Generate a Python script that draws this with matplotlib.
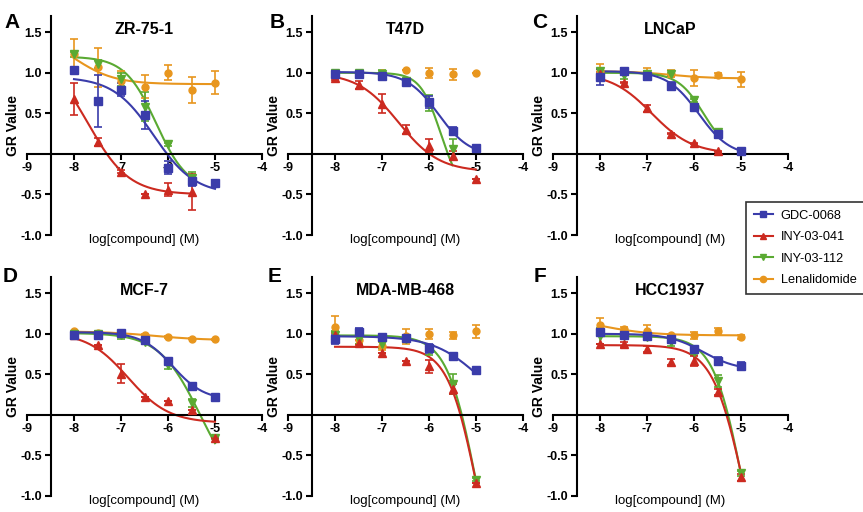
import numpy as np
import matplotlib
matplotlib.use("Agg")
import matplotlib.pyplot as plt
from matplotlib.lines import Line2D

plt.rcParams['font.family'] = ['Liberation Sans', 'DejaVu Sans']

# log10 concentrations (M)
log_conc = [-8, -7.5, -7, -6.5, -6, -5.5, -5]
cell_lines = ["ZR-75-1", "T47D", "LNCaP", "MCF-7", "MDA-MB-468", "HCC1937"]
panel_letters = ["A", "B", "C", "D", "E", "F"]
nan = np.nan

# GR values per cell line (rows) and concentration (cols)
gdc0068_gr = [[1.03, 0.65, 0.79, 0.48, -0.17, -0.34, -0.36],
              [0.99, 0.98, 0.96, 0.89, 0.64, 0.28, 0.07],
              [0.95, 1.02, 0.96, 0.84, 0.58, 0.24, 0.04],
              [0.99, 0.99, 1.01, 0.92, 0.66, 0.36, 0.22],
              [0.93, 1.02, 0.96, 0.95, 0.82, 0.73, 0.55],
              [1.02, 0.98, 0.97, 0.93, 0.81, 0.66, 0.60]]
gdc0068_err = [[0.03, 0.32, 0.08, 0.17, 0.08, 0.06, 0.04],
               [0.03, 0.02, 0.03, 0.02, 0.07, 0.05, 0.01],
               [0.10, 0.04, 0.05, 0.05, 0.03, 0.05, 0.01],
               [0.02, 0.02, 0.02, 0.02, 0.03, 0.02, 0.01],
               [0.06, 0.05, 0.03, 0.02, 0.06, 0.03, 0.01],
               [0.02, 0.02, 0.04, 0.04, 0.04, 0.05, 0.05]]
iny041_gr = [[0.68, 0.15, -0.22, -0.49, -0.44, -0.47, nan],
             [0.94, 0.85, 0.62, 0.30, 0.10, -0.02, -0.31],
             [0.99, 0.88, 0.56, 0.25, 0.13, 0.03, nan],
             [0.99, 0.86, 0.51, 0.22, 0.17, 0.06, -0.29],
             [0.98, 0.89, 0.76, 0.67, 0.60, 0.32, -0.84],
             [0.87, 0.87, 0.81, 0.65, 0.66, 0.28, -0.77]]
iny041_err = [[0.20, 0.05, 0.02, 0.0, 0.08, 0.22, nan],
              [0.03, 0.05, 0.12, 0.06, 0.08, 0.06, 0.0],
              [0.02, 0.01, 0.04, 0.01, 0.01, 0.01, nan],
              [0.0, 0.0, 0.12, 0.0, 0.0, 0.0, 0.0],
              [0.03, 0.03, 0.0, 0.0, 0.08, 0.06, 0.0],
              [0.0, 0.03, 0.04, 0.04, 0.06, 0.04, 0.04]]
iny112_gr = [[1.23, 1.11, 0.92, 0.58, 0.12, -0.30, nan],
             [1.00, 1.00, 0.99, 0.90, 0.63, 0.06, nan],
             [1.02, 0.97, 0.99, 0.98, 0.66, 0.27, nan],
             [1.00, 1.00, 0.98, 0.90, 0.61, 0.15, -0.28],
             [0.98, 0.93, 0.88, 0.93, 0.80, 0.38, -0.80],
             [0.97, 0.97, 0.96, 0.90, 0.78, 0.42, -0.72]]
iny112_err = [[0.03, 0.05, 0.08, 0.18, 0.02, 0.08, nan],
              [0.02, 0.02, 0.04, 0.02, 0.10, 0.12, nan],
              [0.03, 0.05, 0.03, 0.02, 0.02, 0.03, nan],
              [0.02, 0.03, 0.04, 0.02, 0.04, 0.05, 0.02],
              [0.05, 0.05, 0.05, 0.02, 0.06, 0.12, 0.02],
              [0.10, 0.02, 0.03, 0.05, 0.04, 0.07, 0.03]]
lenalidomide_gr = [[1.23, 1.07, 0.90, 0.83, 1.00, 0.79, 0.88],
                   [1.00, 1.00, 1.00, 1.04, 1.00, 0.98, 1.00],
                   [1.02, 1.01, 0.99, 0.99, 0.94, 0.97, 0.92],
                   [1.03, 1.01, 1.00, 0.99, 0.96, 0.94, 0.93],
                   [1.08, 0.92, 0.85, 0.97, 1.00, 0.98, 1.03],
                   [1.11, 1.06, 1.03, 0.98, 0.98, 1.03, 0.96]]
lenalidomide_err = [[0.19, 0.24, 0.12, 0.14, 0.09, 0.16, 0.14],
                    [0.0, 0.0, 0.0, 0.0, 0.06, 0.07, 0.0],
                    [0.09, 0.03, 0.07, 0.04, 0.10, 0.03, 0.09],
                    [0.01, 0.01, 0.01, 0.01, 0.01, 0.01, 0.01],
                    [0.14, 0.05, 0.05, 0.09, 0.06, 0.04, 0.08],
                    [0.08, 0.02, 0.08, 0.02, 0.04, 0.04, 0.03]]

# fitted curve parameters: (top, bottom, logEC50, hill), None = no fit shown
gdc0068_fit = [(0.95, -0.5, -6.3, 1.0), (1.01, -0.03, -5.8, 1.3), (1.02, -0.03, -5.9, 1.3),
               (1.02, 0.18, -5.9, 1.3), (0.97, 0.0, -4.95, 0.9), (1.0, 0.55, -5.8, 1.2)]
iny041_fit = [(1.25, -0.5, -7.7, 1.0), (1.0, -0.22, -6.65, 1.0), (1.0, 0.0, -6.9, 1.0),
              (1.02, -0.1, -6.85, 1.0), (0.84, -2.6, -4.98, 1.4), (0.86, -2.6, -4.94, 1.3)]
iny112_fit = [(1.2, -0.45, -6.25, 1.3), (1.0, -0.5, -5.75, 2.0), (1.0, 0.0, -5.8, 1.6),
              (1.01, -1.0, -5.32, 1.0), (0.98, -2.6, -5.0, 1.4), (0.97, -2.6, -4.97, 1.4)]
lenalidomide_fit = [(1.5, 0.86, -8.0, 1.0), None, (1.02, 0.93, -6.5, 1.0),
                    (1.03, 0.92, -6.3, 0.8), None, (1.22, 0.98, -8.0, 0.8)]

# drawing order: bottom layer first
drugs = [
    ("Lenalidomide", lenalidomide_gr, lenalidomide_err, lenalidomide_fit, "#e8961e", "o"),
    ("INY-03-112", iny112_gr, iny112_err, iny112_fit, "#5aaa32", "v"),
    ("INY-03-041", iny041_gr, iny041_err, iny041_fit, "#cc2a20", "^"),
    ("GDC-0068", gdc0068_gr, gdc0068_err, gdc0068_fit, "#3a3caa", "s"),
]


def logistic(x, top, bottom, c, h):
    return bottom + (top - bottom) / (1 + 10 ** ((x - c) * h))


fig = plt.figure(figsize=(8.63, 5.12), dpi=100)
W, H = 863, 512
lefts = [27, 288, 553]
tops = [16, 277]
aw, ah = 235, 219
letter_pos = [(12, 22), (277, 22), (540, 22), (10, 276), (275, 276), (540, 276)]

x = np.array(log_conc)
for i, cell in enumerate(cell_lines):
    row, col = divmod(i, 3)
    ax = fig.add_axes([lefts[col] / W, (H - tops[row] - ah) / H, aw / W, ah / H])
    ax.set_xlim(-9, -4)
    ax.set_ylim(-1.0, 1.7)

    for name, gr, err, fits, color, mk in drugs:
        y = np.array(gr[i], dtype=float)
        e = np.array(err[i], dtype=float)
        ax.errorbar(x, y, yerr=e, fmt=mk, color=color, ms=5.5 if mk != "o" else 5,
                    capsize=3, elinewidth=1.2, capthick=1.2, clip_on=False, zorder=3)
        p = fits[i]
        if p is not None:
            last = x[~np.isnan(y)].max()
            xs = np.linspace(-8, last, 200)
            ax.plot(xs, logistic(xs, *p), color=color, lw=1.5, zorder=2)

    for s in ["top", "right"]:
        ax.spines[s].set_visible(False)
    ax.spines["left"].set_position(("data", -8.5))
    ax.spines["bottom"].set_position(("data", 0))
    ax.spines["left"].set_linewidth(1.5)
    ax.spines["bottom"].set_linewidth(1.5)
    ax.set_xticks([-9, -8, -7, -6, -5, -4])
    ax.set_xticklabels(["-9", "-8", "-7", "-6", "-5", "-4"])
    ax.set_yticks([-1.0, -0.5, 0.5, 1.0, 1.5])
    ax.set_yticklabels(["-1.0", "-0.5", "0.5", "1.0", "1.5"])
    ax.tick_params(width=1.5, length=4, labelsize=9, pad=2)
    for lab in ax.get_xticklabels() + ax.get_yticklabels():
        lab.set_fontweight("bold")
    ax.patch.set_alpha(0)

    ax.text(0.5, 0.94, cell, transform=ax.transAxes, ha="center", va="center",
            fontsize=11.5, fontweight="bold")
    ax.text(0.5, -0.025, "log[compound] (M)", transform=ax.transAxes,
            ha="center", va="center", fontsize=9.5)
    ax.text(-0.058, 0.5, "GR Value", transform=ax.transAxes, rotation=90,
            ha="center", va="center", fontsize=10, fontweight="bold")

    lx, ly = letter_pos[i]
    fig.text(lx / W, 1 - ly / H, panel_letters[i], ha="center", va="center",
             fontsize=15, fontweight="bold")

handles = []
for name, gr, err, fits, color, mk in drugs[::-1]:
    handles.append(Line2D([0], [0], color=color, marker=mk, ms=4.5, lw=1.5, label=name))
leg = fig.legend(handles=handles, loc="upper left",
                 bbox_to_anchor=(746 / W, 1 - 202 / H), fontsize=9.2,
                 frameon=True, fancybox=False, edgecolor="black",
                 handlelength=1.5, handletextpad=0.6, borderpad=0.6,
                 labelspacing=0.75, borderaxespad=0)
leg.get_frame().set_linewidth(1.2)

fig.savefig("out.png", dpi=100)
